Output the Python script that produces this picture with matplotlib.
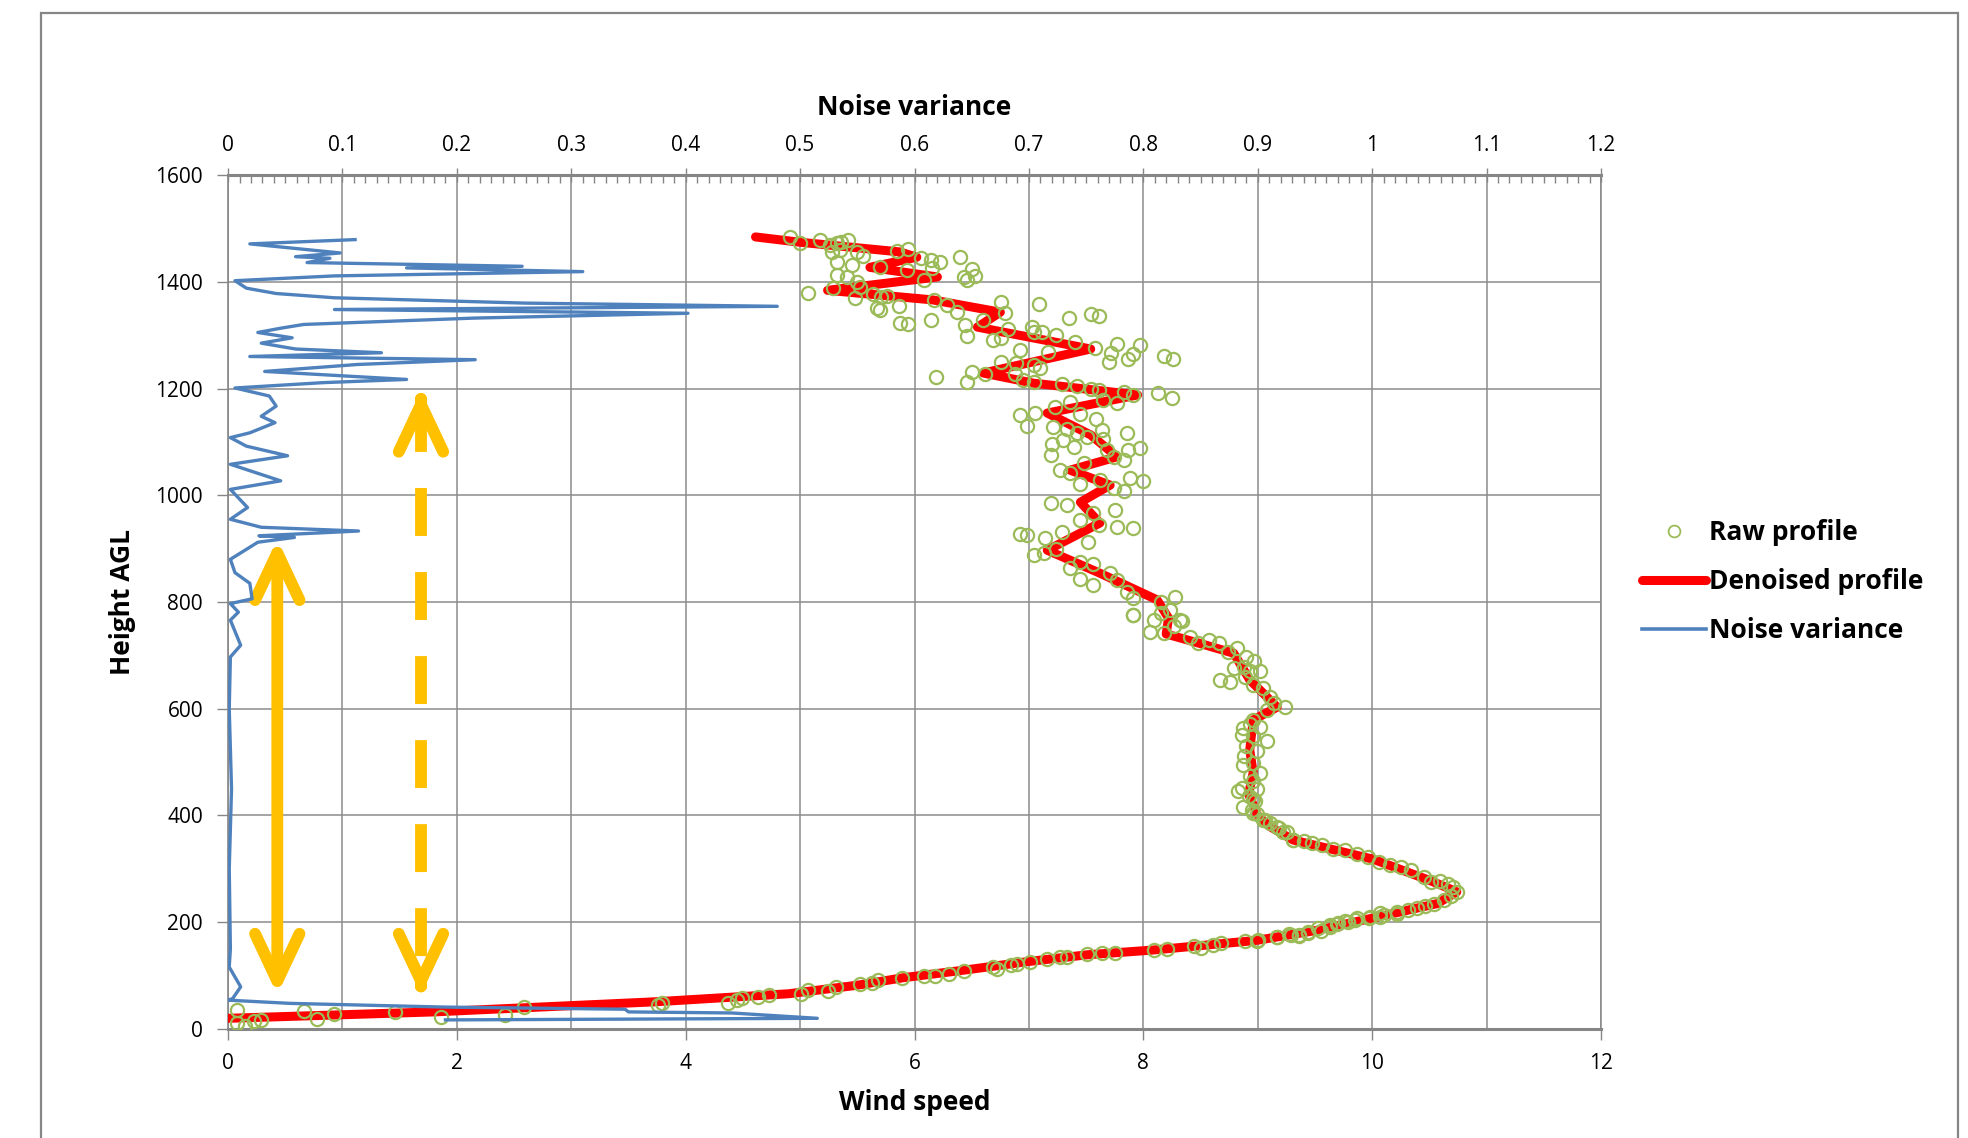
import matplotlib
matplotlib.use('Agg')
import matplotlib.pyplot as plt
from matplotlib.patches import Rectangle
from matplotlib.lines import Line2D
from matplotlib.ticker import MultipleLocator

plt.rcParams['font.family'] = ['Open Sans', 'DejaVu Sans']
plt.rcParams['lines.scale_dashes'] = False

# ---------------- data ----------------
# Denoised profile (wind speed, height), bottom to top
denoised_wind = [0.0, 1.8, 3.74, 4.9, 5.5, 5.9, 6.46, 6.98, 7.51, 8.09, 8.99, 9.52, 10.05,
                 10.57, 10.74, 10.53, 10.01, 9.31, 9.1, 9.0, 8.92, 8.96, 8.93, 8.96, 9.17,
                 8.93, 8.79, 8.5, 8.2, 8.22, 8.12, 7.62, 7.16, 7.62, 7.45, 7.71, 7.36, 7.77,
                 7.54, 7.16, 7.95, 7.04, 6.6, 7.54, 6.55, 6.75, 6.16, 5.24, 6.2, 5.61, 6.02,
                 5.87, 5.0, 4.61]
denoised_height = [20, 32, 51, 66, 82, 96, 111, 126, 139, 148, 166, 185, 210,
                   235, 257, 276, 318, 354, 380, 400, 440, 480, 523, 579, 603,
                   654, 704, 722, 740, 770, 804, 854, 897, 948, 987, 1019, 1047, 1072,
                   1113, 1154, 1188, 1210, 1229, 1274, 1315, 1343, 1366, 1384, 1409, 1427, 1446,
                   1456, 1474, 1484]

# Raw profile points (wind speed, height)
raw_profile = [
    (0.08, 36), (0.08, 11), (0.15, 6), (0.23, 15), (0.29, 17), (0.66, 34), (0.78, 19), (0.93, 28),
    (1.46, 32), (1.86, 23), (2.42, 26), (2.59, 42), (3.76, 44), (3.79, 48), (4.37, 49), (4.45, 54),
    (4.49, 58), (4.63, 60), (4.73, 64), (5.01, 66), (5.07, 73), (5.24, 72), (5.31, 79), (5.52, 84),
    (5.63, 87), (5.68, 92), (5.89, 96),
    (6.08, 99), (6.18, 100), (6.30, 103), (6.43, 109), (6.69, 117), (6.72, 113), (6.84, 120),
    (6.90, 122), (7.01, 126), (7.16, 131), (7.27, 134), (7.33, 135), (7.51, 140), (7.64, 142),
    (7.75, 143), (8.09, 148), (8.21, 150), (8.44, 155), (8.50, 151), (8.61, 157), (8.68, 161),
    (8.89, 165), (9.00, 167), (9.17, 172), (9.27, 178), (9.36, 177), (9.44, 182), (9.53, 189),
    (9.63, 195), (9.69, 197), (9.76, 203), (9.85, 205), (9.98, 210), (10.07, 217), (10.22, 220),
    (8.99, 164), (9.17, 173), (9.29, 176), (9.36, 174), (9.44, 180), (9.55, 184), (9.63, 192),
    (9.70, 198), (9.79, 201), (9.87, 207), (9.97, 207), (10.07, 210), (10.10, 213), (10.22, 216),
    (10.31, 222), (10.39, 226), (10.46, 230), (10.54, 235), (10.63, 241), (10.69, 250), (10.74, 256),
    (10.71, 266), (10.66, 272), (10.59, 278), (10.51, 276), (10.45, 285), (10.34, 297), (10.25, 303),
    (10.16, 307), (10.06, 313), (9.96, 322), (9.87, 328), (9.76, 335), (9.66, 338), (9.56, 345),
    (9.47, 348), (9.40, 352), (9.31, 354), (9.22, 370), (9.19, 376), (9.11, 386), (9.05, 392),
    (8.99, 402), (8.95, 411), (8.96, 430), (8.99, 449), (8.96, 465),
    (7.91, 776), (8.09, 766), (8.06, 744), (8.18, 742), (8.27, 755), (8.34, 764), (8.41, 735),
    (8.48, 723), (8.57, 729), (8.66, 723), (8.74, 707), (8.82, 713), (8.90, 697), (8.97, 690),
    (8.67, 654), (8.76, 651), (8.79, 676), (8.88, 679), (8.93, 670), (9.02, 670), (8.89, 660),
    (8.96, 644), (9.05, 638), (9.11, 622), (9.14, 610), (9.24, 604), (9.08, 597), (8.96, 579),
    (8.87, 564), (8.93, 572), (9.02, 566), (8.86, 551), (8.96, 549), (9.08, 540), (8.90, 530),
    (8.99, 521), (8.88, 512), (8.87, 495), (8.96, 498), (9.02, 480), (8.93, 474), (8.86, 451),
    (8.83, 445), (8.92, 436), (8.98, 427), (8.87, 416), (8.96, 404), (9.06, 392), (9.17, 379),
    (9.26, 370), (9.31, 355),
    (4.91, 1484), (5.00, 1473), (5.17, 1479), (5.26, 1469), (5.32, 1472), (5.36, 1475), (5.42, 1478),
    (5.28, 1456), (5.35, 1459), (5.50, 1456), (5.55, 1448), (5.85, 1457), (5.94, 1462), (6.06, 1444),
    (6.14, 1441), (6.22, 1437), (6.40, 1446), (5.32, 1437), (5.45, 1431), (5.70, 1427), (5.93, 1422),
    (6.15, 1425), (6.50, 1423), (6.43, 1408), (6.53, 1411), (6.46, 1404), (5.32, 1413), (5.41, 1409),
    (6.08, 1404), (5.50, 1400), (5.52, 1391), (5.29, 1389), (5.07, 1379), (5.48, 1369), (5.64, 1377),
    (5.71, 1372), (5.76, 1373), (5.67, 1350), (5.70, 1347), (5.86, 1354), (6.17, 1366), (6.28, 1356),
    (6.37, 1344), (6.76, 1363), (6.79, 1341), (7.09, 1359), (5.87, 1323), (5.94, 1321), (6.14, 1329),
    (6.44, 1319), (6.46, 1298), (6.60, 1328), (6.69, 1291), (6.76, 1294), (6.82, 1311), (7.03, 1316),
    (7.04, 1306), (7.11, 1306), (7.24, 1300), (7.35, 1333), (7.54, 1339), (7.61, 1336), (7.40, 1288),
    (7.58, 1275), (6.92, 1272), (7.17, 1269), (7.77, 1283), (7.72, 1266), (7.70, 1250), (7.87, 1255),
    (7.91, 1264), (7.97, 1281), (8.18, 1261), (8.26, 1256), (6.76, 1250), (6.89, 1247), (7.04, 1244),
    (7.10, 1238), (6.88, 1228), (6.50, 1231), (6.62, 1228), (6.19, 1221), (6.46, 1213), (6.95, 1216),
    (7.04, 1213), (7.29, 1208), (7.42, 1205), (7.54, 1200), (7.61, 1197), (7.83, 1194), (7.91, 1188),
    (8.13, 1191), (8.25, 1183), (7.65, 1178), (7.77, 1173), (7.36, 1175), (7.23, 1166), (6.92, 1150),
    (7.05, 1155), (6.98, 1130), (7.45, 1153), (7.59, 1142), (7.21, 1128), (7.33, 1125), (7.64, 1123),
    (7.42, 1116), (7.51, 1110), (7.65, 1106), (7.86, 1117), (7.30, 1103), (7.20, 1096), (7.19, 1075),
    (7.39, 1091), (7.68, 1085), (7.74, 1072), (7.87, 1085), (7.97, 1088), (7.83, 1066), (7.27, 1047),
    (7.36, 1041), (7.48, 1060), (7.45, 1022), (7.88, 1032), (8.00, 1027), (7.62, 1028), (7.74, 1013),
    (7.83, 1008), (7.19, 985), (7.33, 982), (7.45, 953), (7.56, 966), (7.75, 972), (7.77, 941),
    (7.91, 938), (7.61, 944), (6.92, 927), (6.98, 925), (7.14, 919), (7.29, 932), (7.13, 891),
    (7.04, 888), (7.24, 900), (7.52, 913), (7.45, 875), (7.56, 872), (7.36, 863), (7.45, 844),
    (7.71, 854), (7.77, 841), (7.56, 832), (7.86, 819), (7.91, 807), (7.91, 775), (8.15, 800),
    (8.28, 810), (8.32, 766), (8.15, 779), (8.23, 785),
]
raw_wind = [p[0] for p in raw_profile]
raw_height = [p[1] for p in raw_profile]

# Noise variance (top axis), top to bottom
noise_var = [0.111, 0.019, 0.098, 0.059, 0.089, 0.069, 0.257, 0.156, 0.31, 0.093, 0.006, 0.016,
             0.042, 0.093, 0.26, 0.48, 0.093, 0.402, 0.216, 0.103, 0.066, 0.046, 0.026, 0.056,
             0.029, 0.059, 0.134, 0.019, 0.216, 0.113, 0.032, 0.156, 0.083, 0.006, 0.036, 0.042,
             0.029, 0.041, 0.019, 0.002, 0.016, 0.052, 0.002, 0.046, 0.002, 0.017, 0.002, 0.029,
             0.114, 0.027, 0.058, 0.026, 0.002, 0.006, 0.019, 0.021, 0.002, 0.009, 0.002, 0.011,
             0.002, 0.001, 0.003, 0.001, 0.002, 0.001, 0.011, 0.004, 0.0, 0.054, 0.19, 0.347,
             0.35, 0.44, 0.515, 0.19]
noise_height = [1479, 1471, 1454, 1447, 1444, 1436, 1429, 1426, 1419, 1411, 1402, 1388,
                1378, 1370, 1360, 1354, 1348, 1341, 1332, 1323, 1320, 1313, 1305, 1295,
                1285, 1274, 1267, 1260, 1254, 1245, 1232, 1217, 1211, 1201, 1186, 1167,
                1148, 1136, 1117, 1108, 1092, 1074, 1058, 1027, 1011, 977, 955, 940,
                933, 924, 921, 912, 880, 855, 835, 806, 797, 781, 766, 719,
                697, 600, 450, 300, 150, 116, 79, 57, 54, 48, 41, 37,
                32, 30, 20, 17]

wind_ticks = [0, 2, 4, 6, 8, 10, 12]
height_ticks = [0, 200, 400, 600, 800, 1000, 1200, 1400, 1600]
noise_ticks = [0, 0.1, 0.2, 0.3, 0.4, 0.5, 0.6, 0.7, 0.8, 0.9, 1, 1.1, 1.2]
noise_tick_labels = ['0', '0.1', '0.2', '0.3', '0.4', '0.5', '0.6', '0.7', '0.8', '0.9', '1', '1.1', '1.2']

# annotation arrows (wind-speed x, top height, bottom height)
solid_arrow = (0.43, 918, 64)
dashed_arrow = (1.686, 1196, 64)

# ---------------- styling ----------------
GRID = '#8c8c8c'
AXC = '#868686'
GREEN = '#9BBB59'
RED = '#FF0000'
BLUE = '#4F81BD'
GOLD = '#FFC000'
TICK_FS = 15
LABEL_FS = 19

fig = plt.figure(figsize=(19.68, 11.38), dpi=100)
fig.patches.append(Rectangle((41 / 1968, -0.05), (1958 - 41) / 1968, 1.05 - 13 / 1138,
                             transform=fig.transFigure, fill=False, edgecolor=AXC, lw=1.6))

ax = fig.add_axes([0.1159, 0.0958, 0.6976, 0.7504])
ax.set_xlim(0, 12)
ax.set_ylim(0, 1600)
ax.set_xticks(wind_ticks)
ax.xaxis.set_minor_locator(MultipleLocator(1))
ax.set_yticks(height_ticks)
ax.grid(True, which='both', color=GRID, lw=1.1)
ax.set_axisbelow(True)
ax.tick_params(axis='x', which='major', direction='out', length=8, width=1, color=AXC,
               labelsize=TICK_FS, pad=9)
ax.tick_params(axis='x', which='minor', length=0)
ax.tick_params(axis='y', direction='out', length=8, width=1, color=AXC, labelsize=TICK_FS, pad=10)
for s in ['left', 'bottom', 'top', 'right']:
    ax.spines[s].set_color(AXC)
ax.spines['bottom'].set_linewidth(2.2)
ax.spines['left'].set_linewidth(1.2)
ax.spines['top'].set_linewidth(2.2)
ax.spines['right'].set_linewidth(1.1)
ax.set_xlabel('Wind speed', fontsize=LABEL_FS, fontweight='bold', labelpad=11)
ax.set_ylabel('Height AGL', fontsize=LABEL_FS, fontweight='bold', labelpad=14)

ax.plot(denoised_wind, denoised_height, color=RED, lw=6.5, solid_capstyle='round',
        solid_joinstyle='round', zorder=3, label='Denoised profile')
ax.plot(raw_wind, raw_height, linestyle='none', marker='o', markersize=9.5, markerfacecolor='none',
        markeredgecolor=GREEN, markeredgewidth=1.6, zorder=4, label='Raw profile')

# arrows
x, y_top, y_bot = solid_arrow
ax.annotate('', xy=(x, y_bot), xytext=(x, y_top),
            arrowprops=dict(arrowstyle='<->,head_length=34,head_width=16', color=GOLD, lw=8.5,
                            capstyle='round', joinstyle='round', shrinkA=0, shrinkB=0,
                            mutation_scale=1), zorder=5)
x, y_top, y_bot = dashed_arrow
ax.plot([x, x], [y_top - 25, y_bot + 25], color=GOLD, lw=8.5, dashes=(34.5, 26),
        dash_capstyle='butt', zorder=5)
for ya, yb in [(y_top - 20, y_top), (y_bot + 20, y_bot)]:
    ax.annotate('', xy=(x, yb), xytext=(x, ya),
                arrowprops=dict(arrowstyle='->,head_length=34,head_width=16', color=GOLD, lw=8.5,
                                capstyle='round', joinstyle='round', shrinkA=0, shrinkB=0,
                                mutation_scale=1), zorder=5)

ax2 = ax.twiny()
ax2.set_xlim(0, 1.2)
ax2.set_xticks(noise_ticks)
ax2.set_xticklabels(noise_tick_labels)
ax2.xaxis.set_minor_locator(MultipleLocator(0.01))
ax2.tick_params(axis='x', which='major', direction='inout', length=10, width=1, color=AXC,
                labelsize=TICK_FS, pad=9)
ax2.tick_params(axis='x', which='minor', direction='in', length=6, width=1, color=AXC)
for s in ax2.spines.values():
    s.set_visible(False)
ax2.set_xlabel('Noise variance', fontsize=LABEL_FS, fontweight='bold', labelpad=14)
ax2.plot(noise_var, noise_height, color=BLUE, lw=2.4, solid_joinstyle='round', zorder=3,
         label='Noise variance')

handles = [Line2D([], [], linestyle='none', marker='o', markersize=8.5, markerfacecolor='none',
                  markeredgecolor=GREEN, markeredgewidth=1.3),
           Line2D([], [], color=RED, lw=6.5, solid_capstyle='round'),
           Line2D([], [], color=BLUE, lw=2.6)]
fig.legend(handles, ['Raw profile', 'Denoised profile', 'Noise variance'],
           loc='center left', bbox_to_anchor=(0.8345, 0.489), frameon=False,
           prop=dict(size=LABEL_FS, weight='bold'), handlelength=2.4, handletextpad=0.12,
           labelspacing=0.84, borderpad=0, borderaxespad=0)

fig.savefig('out.png', dpi=100)
